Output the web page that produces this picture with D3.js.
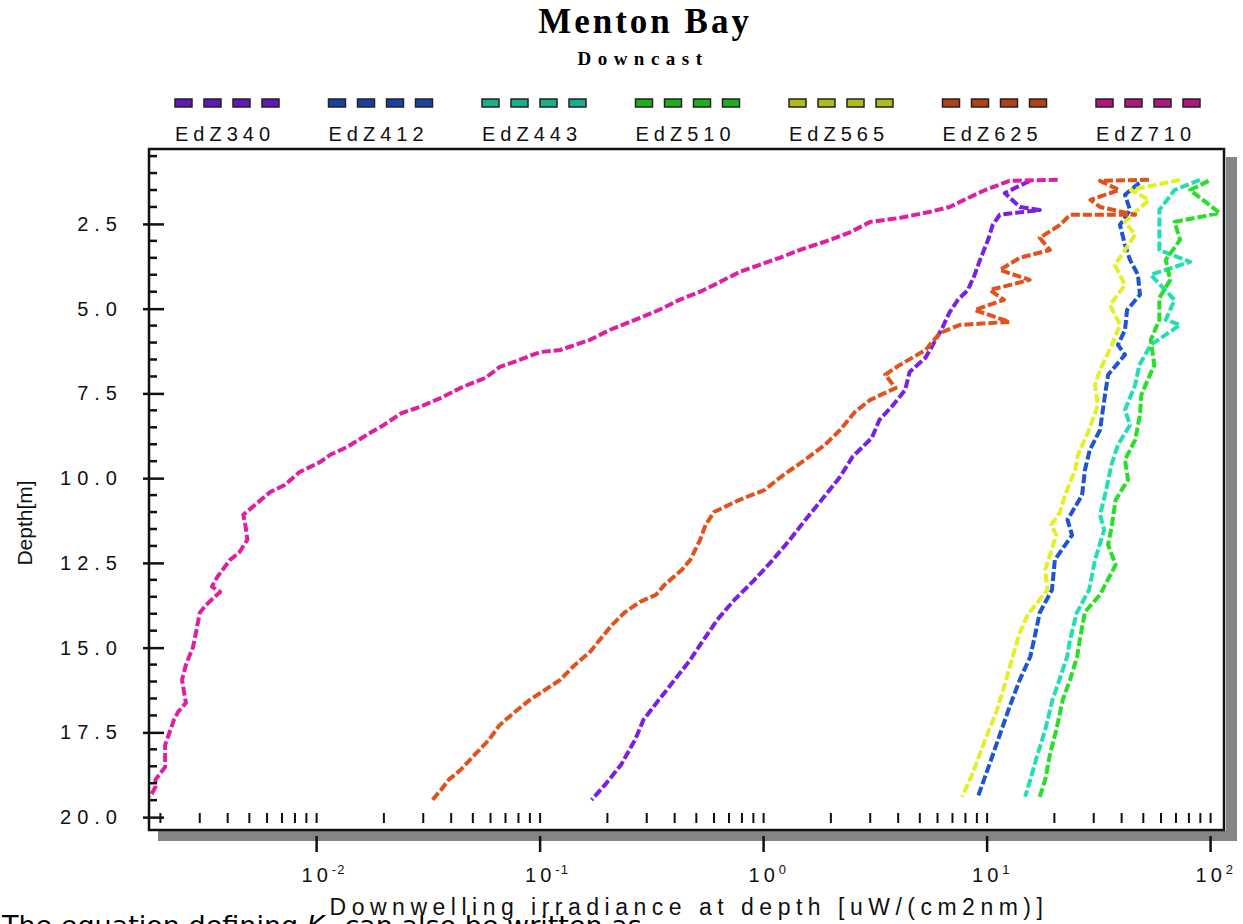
<!DOCTYPE html>
<html lang="en">
  <head>
    <meta charset="utf-8">
    <title>Menton Bay - Downcast</title>
    <script src="https://d3js.org/d3.v7.min.js"></script>
    <style>
      body { margin: 0; background: #fff; }
      svg { display: block; }
      .title { font-family: "Liberation Serif", serif; font-weight: bold; font-size: 35px; letter-spacing: 3px; }
      .subtitle { font-family: "Liberation Serif", serif; font-weight: bold; font-size: 19px; letter-spacing: 6.5px; }
      .keylabel { font-family: "Liberation Sans", sans-serif; font-size: 20px; letter-spacing: 5px; fill: #111; }
      .axisl text { font-family: "Liberation Sans", sans-serif; font-size: 20px; letter-spacing: 6px; fill: #111; }
      .xlab { font-family: "Liberation Sans", sans-serif; font-size: 20px; letter-spacing: 4px; fill: #111; }
      .axtitle { font-family: "Liberation Sans", sans-serif; font-size: 23px; letter-spacing: 5.5px; fill: #111; }
      .ytitle { font-family: "Liberation Sans", sans-serif; font-size: 21px; fill: #111; }
      .pagetext { font-family: "DejaVu Sans", sans-serif; font-size: 27px; fill: #000; }
    </style>
  </head>
  <body>
    <svg width="1243" height="924" id="chart"></svg>
    <script>

// series names (legend order)
const names = ["EdZ340", "EdZ412", "EdZ443", "EdZ510", "EdZ565", "EdZ625", "EdZ710"];

// [depth m, irradiance uW/(cm2 nm)]
const edz340 = [[1.23,15.5],[1.59,12.0],[2.0,14.0],[2.09,17.2],[2.23,11.4],[2.53,10.6],[2.97,10.1],[3.56,9.3],[4.0,8.8],
  [4.45,8.2],[4.74,7.4],[5.1,6.8],[5.57,6.3],[6.22,5.55],[6.45,5.3],[6.87,4.5],[7.4,4.3],[7.84,3.8],[8.28,3.3],
  [8.81,3.05],[9.37,2.5],[9.96,2.2],[10.58,1.85],[11.32,1.5],[11.82,1.31],[12.5,1.07],[13.0,0.91],[13.59,0.74],
  [14.18,0.62],[14.92,0.52],[15.36,0.47],[15.95,0.40],[16.54,0.34],[17.13,0.29],[17.72,0.266],[18.46,0.23],
  [19.05,0.195],[19.49,0.17]];

const edz412 = [[1.29,48],[1.64,41.4],[2.09,43.6],[2.53,39.3],[3.12,41.4],[3.56,43.6],[4.0,47.3],[4.59,48.3],
  [5.04,42.3],[5.63,41.4],[6.07,38.5],[6.36,41.4],[6.95,34.8],[7.54,33.7],[8.58,32],[9.17,28.8],[9.76,27.4],
  [10.5,26.6],[11.23,22.9],[11.68,24.0],[12.41,20.1],[13.3,19.5],[13.97,17.2],[14.62,16.4],[15.27,15.6],
  [15.95,14.0],[16.75,12.6],[17.57,11.4],[18.4,10.3],[19.4,9.1]];

const edz443 = [[1.2,89.6],[1.5,69],[2.09,59],[3.27,59],[3.62,81],[4.0,54],[4.74,69],[5.33,63],[5.48,73],
  [6.07,54],[6.66,48],[7.25,46],[7.99,41.4],[8.43,43.6],[9.02,38.5],[9.61,36],[10.5,33.7],[11.08,32],
  [11.53,33.4],[12.41,30.4],[13.3,28.6],[13.97,25.2],[14.77,23.5],[15.27,22.8],[16.1,20.7],[16.54,19.6],
  [17.43,18.2],[18.22,16.7],[18.9,15.6],[19.4,14.8]];

const edz510 = [[1.23,98],[1.5,81],[2.18,110],[2.44,69],[2.97,73],[3.56,63],[4.15,66],[4.68,59],[5.33,59],
  [5.92,54],[6.66,56],[7.54,49],[8.13,48.3],[8.87,46],[9.46,41.4],[10.05,42.7],[10.64,37.6],[11.38,36.2],
  [11.97,34.8],[12.56,37.6],[13.44,32],[13.95,27.4],[14.77,26.0],[15.27,25.3],[15.95,23.5],[16.54,21.8],
  [17.43,20.4],[18.16,19.1],[18.9,18.2],[19.4,17.2]];

const edz565 = [[1.2,73],[1.5,44],[1.79,53],[2.44,41.4],[2.82,46],[3.71,37.3],[4.3,41.4],[4.89,35.5],[5.48,39.3],
  [6.07,36.2],[6.81,32],[7.25,30.4],[7.84,31.3],[8.58,28.6],[9.31,25.5],[9.76,24.8],[10.5,22.3],[11.0,21.2],
  [11.38,19.4],[11.68,20.4],[12.71,18.2],[13.3,18.6],[14.03,15.2],[14.56,14.0],[15.21,13.1],[16.25,11.8],
  [16.9,11.0],[17.72,9.8],[18.75,8.57],[19.4,7.73]];

const edz625 = [[1.20,53],[1.23,32],[1.50,39],[1.79,29],[2.0,32],[2.23,46],[2.23,23.5],[2.53,21.2],[2.91,17.2],
  [3.27,19.1],[3.50,14.0],[3.86,11.4],[4.15,15.5],[4.45,10.3],[4.74,11.9],[5.04,8.8],[5.39,12.6],[5.48,7.55],
  [5.72,6.15],[6.22,5.3],[6.66,4.07],[6.95,3.5],[7.34,3.9],[7.69,3.0],[8.05,2.56],[8.58,2.2],[9.02,1.88],
  [9.46,1.53],[9.99,1.18],[10.35,1.01],[10.64,0.78],[11.0,0.6],[11.38,0.55],[11.82,0.52],[12.41,0.47],
  [12.71,0.43],[13.15,0.36],[13.44,0.33],[13.65,0.28],[13.95,0.24],[14.33,0.21],[14.77,0.185],[15.13,0.167],
  [15.51,0.143],[15.95,0.123],[16.25,0.105],[16.54,0.09],[16.9,0.077],[17.28,0.066],[17.72,0.059],
  [18.16,0.051],[18.61,0.044],[18.9,0.039],[19.2,0.036],[19.49,0.033]];

const edz710 = [[1.20,20.7],[1.23,12.6],[1.50,9.8],[1.79,7.9],[2.00,6.8],[2.15,5.5],[2.32,4.1],[2.44,3.0],
  [2.74,2.45],[2.97,1.99],[3.27,1.45],[3.50,1.18],[3.71,0.96],[3.92,0.78],[4.30,0.60],[4.50,0.52],[4.74,0.42],
  [5.04,0.34],[5.27,0.28],[5.63,0.205],[5.92,0.167],[6.22,0.123],[6.28,0.10],[6.51,0.081],[6.72,0.066],
  [7.04,0.057],[7.31,0.045],[7.63,0.036],[7.90,0.029],[8.08,0.024],[8.43,0.020],[8.67,0.0173],[9.08,0.0137],
  [9.31,0.0115],[9.52,0.0104],[9.82,0.0084],[10.20,0.0072],[10.41,0.0062],[10.79,0.0053],[11.08,0.0047],
  [11.38,0.0048],[11.82,0.0049],[12.20,0.0045],[12.41,0.0041],[12.91,0.0036],[13.20,0.0034],[13.36,0.0037],
  [13.74,0.0032],[13.97,0.0030],[14.48,0.0029],[14.98,0.0028],[15.51,0.0026],[15.95,0.0025],[16.63,0.0026],
  [16.90,0.0024],[17.13,0.0023],[17.87,0.0021],[18.52,0.0021],[18.90,0.0019],[19.11,0.0019],[19.40,0.0018]];

const depthTicks = [2.5, 5, 7.5, 10, 12.5, 15, 17.5, 20];
const irrTicks = [1e-2, 1e-1, 1, 10, 100];

// styles
const colors = ["#7a1fe6", "#1f55d0", "#22dfb2", "#26df26", "#e2f026", "#e2521c", "#e01ea2"];
const series = [edz340, edz412, edz443, edz510, edz565, edz625, edz710];

const plotL = 149, plotR = 1224, plotT = 149, plotB = 830;

const svg = d3.select("#chart");

const x = d3.scaleLog()
    .domain([Math.pow(10, -2.75), Math.pow(10, 2.06)])
    .range([plotL, plotR]);

const y = d3.scaleLinear()
    .domain([0.29, 20.38])
    .range([plotT, plotB]);

// titles
svg.append("text")
    .attr("class", "title")
    .attr("x", 645)
    .attr("y", 33)
    .attr("text-anchor", "middle")
    .text("Menton Bay");

svg.append("text")
    .attr("class", "subtitle")
    .attr("x", 643)
    .attr("y", 65)
    .attr("text-anchor", "middle")
    .text("Downcast");

// legend
const keyX = d3.scalePoint()
    .domain(names)
    .range([227, 1148]);

const keys = svg.selectAll(".key")
    .data(names)
    .enter()
    .append("g")
    .attr("class", "key")
    .attr("transform", d => "translate(" + keyX(d) + ",0)");

keys.each(function(d, i) {
  d3.select(this).selectAll("rect")
      .data([-52, -23, 6, 35])
      .enter()
      .append("rect")
      .attr("x", o => o)
      .attr("y", 99)
      .attr("width", 17)
      .attr("height", 8)
      .attr("fill", d3.color(colors[i]).darker(0.7))
      .attr("stroke", "#222")
      .attr("stroke-width", 1.5);
});

keys.append("text")
    .attr("class", "keylabel")
    .attr("x", -2)
    .attr("y", 141)
    .attr("text-anchor", "middle")
    .text(d => d);

// frame shadow
svg.append("rect")
    .attr("x", 158).attr("y", plotB + 1)
    .attr("width", plotR - 158 + 13).attr("height", 10)
    .attr("fill", "#858585");
svg.append("rect")
    .attr("x", plotR + 2).attr("y", plotT + 8)
    .attr("width", 11).attr("height", plotB - plotT + 3)
    .attr("fill", "#858585");

// data lines
svg.append("clipPath")
    .attr("id", "plotclip")
    .append("rect")
    .attr("x", plotL).attr("y", plotT)
    .attr("width", plotR - plotL).attr("height", plotB - plotT);

const line = d3.line()
    .x(d => x(d[1]))
    .y(d => y(d[0]));

svg.append("g")
    .attr("clip-path", "url(#plotclip)")
    .selectAll("path")
    .data(series)
    .enter()
    .append("path")
    .attr("d", line)
    .attr("fill", "none")
    .attr("stroke", (d, i) => colors[i])
    .attr("stroke-width", 4)
    .attr("stroke-dasharray", "9,3")
    .attr("stroke-linejoin", "round");

// frame
svg.append("rect")
    .attr("x", plotL).attr("y", plotT)
    .attr("width", plotR - plotL).attr("height", plotB - plotT)
    .attr("fill", "none")
    .attr("stroke", "#111")
    .attr("stroke-width", 2.5);

// left axis
const leftAxis = d3.axisLeft(y)
    .tickValues(depthTicks)
    .tickFormat(d3.format(".1f"))
    .tickSizeInner(-15)
    .tickSizeOuter(0)
    .tickPadding(26);

const gl = svg.append("g")
    .attr("class", "axisl")
    .attr("transform", "translate(" + plotL + ",0)")
    .call(leftAxis);
gl.select(".domain").remove();
gl.selectAll(".tick line")
    .attr("x1", -6)
    .attr("x2", 15)
    .attr("stroke", "#111")
    .attr("stroke-width", 2.5);
gl.selectAll(".tick text").attr("fill", "#111");

svg.append("g")
    .selectAll("line")
    .data(d3.range(0.5, 20.01, 0.5).filter(d => depthTicks.indexOf(d) < 0))
    .enter()
    .append("line")
    .attr("x1", plotL)
    .attr("x2", plotL + 8)
    .attr("y1", d => y(d))
    .attr("y2", d => y(d))
    .attr("stroke", "#111")
    .attr("stroke-width", 2.5);

// bottom axis: inner minor row, outer decade ticks
const minorX = x.ticks().filter(d => d >= x.domain()[0] && d <= x.domain()[1]);

svg.append("g")
    .selectAll("line")
    .data(minorX)
    .enter()
    .append("line")
    .attr("x1", d => x(d))
    .attr("x2", d => x(d))
    .attr("y1", 813)
    .attr("y2", 823)
    .attr("stroke", "#111")
    .attr("stroke-width", 2);

svg.append("g")
    .selectAll("line")
    .data(irrTicks)
    .enter()
    .append("line")
    .attr("x1", d => x(d))
    .attr("x2", d => x(d))
    .attr("y1", 836)
    .attr("y2", 852)
    .attr("stroke", "#111")
    .attr("stroke-width", 2.5);

const xl = svg.append("g")
    .selectAll("text")
    .data(irrTicks)
    .enter()
    .append("text")
    .attr("class", "xlab")
    .attr("x", d => x(d) - 15)
    .attr("y", 882);
xl.append("tspan").text("10");
xl.append("tspan")
    .attr("dy", -8)
    .attr("font-size", 13)
    .attr("letter-spacing", 1)
    .text(d => Math.round(Math.log10(d)));

// axis titles
svg.append("text")
    .attr("class", "axtitle")
    .attr("x", 689)
    .attr("y", 915)
    .attr("text-anchor", "middle")
    .text("Downwelling irradiance at depth [uW/(cm2nm)]");

svg.append("text")
    .attr("class", "ytitle")
    .attr("transform", "translate(32,523) rotate(-90)")
    .attr("text-anchor", "middle")
    .text("Depth[m]");

// page text cut off at the bottom edge
const pt = svg.append("text")
    .attr("class", "pagetext")
    .attr("x", 2)
    .attr("y", 935);
pt.append("tspan").text("The equation defining ");
pt.append("tspan").attr("font-style", "italic").text("K");
pt.append("tspan").attr("font-size", 18).attr("dy", 6).text("d");
pt.append("tspan").attr("dy", -6).text(" can also be written as");

    </script>
  </body>
</html>
